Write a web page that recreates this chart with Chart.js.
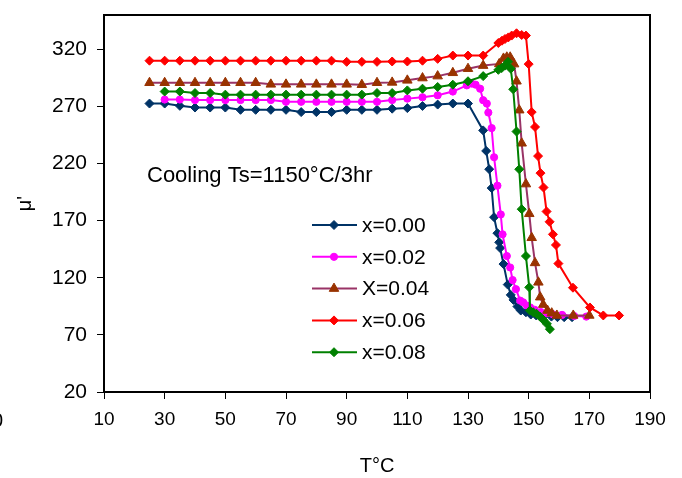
<!DOCTYPE html>
<html>
<head>
<meta charset="utf-8">
<script src="https://cdn.jsdelivr.net/npm/chart.js@4/dist/chart.umd.min.js"></script>
<style>
  html, body { margin: 0; padding: 0; background: #fff; }
  #wrap { width: 682px; height: 478px; }
</style>
</head>
<body>
<div id="wrap"><canvas id="c" width="682" height="478"></canvas></div>
<script>
// ---- Data ----
const seriesLabels = ["x=0.00", "x=0.02", "X=0.04", "x=0.06", "x=0.08"];

const t00 = [25,30,35,40,45,50,55,60,65,70,75,80,85,90,95,100,105,110,115,120,125,130,135,136,137,137.8,138.6,139.7,140.3,140.6,141.7,143.1,144.1,145,146.3,147.4,149.1,150.7,152.5,155,157.5,159.5,161.7,164.3];
const mu00 = [272.5,272.5,270.5,269,269,269,267,267,267,267,265,265,265,267,267,267,268,268.5,270.4,271.6,272.5,272.5,249,231,215,198.5,173,159,151,146,132,114,105,100.6,94.8,91.3,89.8,87.8,87,86.5,86,85.5,85.5,85.5];

const t02 = [30,35,40,45,50,55,60,65,70,75,80,85,90,95,100,105,110,115,120,125,129.6,131.2,132.5,134,135,136.2,136.7,137.8,138.6,139.7,140.8,141.4,142.8,143.9,144.7,145.8,147.2,148.2,149.4,150.5,152,154,156,158,161,165,169];
const mu02 = [276,276,275.5,275.5,275.5,275.5,275.5,275.5,274,274,274,274,274,274,274,275.5,276.8,278,279.7,283,288.4,290,289,285.5,275.4,272.5,264.6,251,225.5,200.6,175.4,158,139,129,118,110,100,98.5,95.7,94,92,90,89,88,87.5,86.5,86];

const t04 = [25,30,35,40,45,50,55,60,65,70,75,80,85,90,95,100,105,110,115,120,125,130,135,140.3,141.7,142.8,143.9,145.2,146,146.9,147.7,149.1,150.2,151,152.1,153.2,153.8,154.8,156.2,157.6,159.3,164.7,170];
const mu04 = [290.7,290.7,290.7,290.7,290.7,290.7,290.7,290.7,289.3,289.3,289.3,289.3,289.3,289.3,289,290.7,291,292.8,294.8,296.5,299.4,303,305.7,307.2,312,313,313,307,292,266.7,237.7,202,176,155,133,116,103,96.5,91.3,89,87,87,87];

const t06 = [25,30,35,40,45,50,55,60,65,70,75,80,85,90,95,100,105,110,115,120,125,130,135,140,141.2,142.2,143.3,144.4,146,147.7,149.1,150,151,152.1,153.1,153.9,154.9,155.9,156.9,158,159,159.8,164.6,170.2,174.6,179.8];
const mu06 = [310,310,310,310,310,310,310,310,310,310,310,310,310,309,309,309,309.3,309.3,310,311.6,314.5,314.5,314.5,325.5,327.5,329,330.4,332,334,332.5,332,307,265,252,226.5,211.6,199,178,169,158,148.7,132.4,111.3,94,87,87];

const t08 = [30,35,40,45,50,55,60,65,70,75,80,85,90,95,100,105,110,115,120,125,130,135,140,141.1,142.2,143.2,144.1,144.9,146,146.9,147.7,149.1,150.2,150.4,151.5,152.6,153.7,154.8,156,157];
const mu08 = [283,283,281.7,281.7,280.3,280.3,280.3,280.3,280.3,280.3,280.3,280.3,280.3,280.3,281.7,281.7,284,285.5,287,289,292,296.5,302,303.5,305.7,309,303,285,248,215,180,139,111.6,91.3,89.8,88.4,86,83.2,79.7,75];

const xTicks = [10,30,50,70,90,110,130,150,170,190];
const yTicks = [20,70,120,170,220,270,320];
const annotationText = "Cooling Ts=1150°C/3hr";
const xTitle = "T°C";
const yTitle = "μ'";

// ---- Styles ----
const FONT = "'Liberation Sans', Arial, Helvetica, sans-serif";
const styles = [
  { line: "#003366", fill: "#003366", style: "rectRot", r: 4.5 },
  { line: "#FF00FF", fill: "#FF00FF", style: "circle", r: 3.6 },
  { line: "#993366", fill: "#993300", style: "triangle", r: 5.5 },
  { line: "#FF0000", fill: "#FF0000", style: "rectRot", r: 4.5 },
  { line: "#008000", fill: "#008000", style: "rectRot", r: 4.5 }
];

const allT = [t00, t02, t04, t06, t08];
const allMu = [mu00, mu02, mu04, mu06, mu08];

const datasets = allT.map((ts, i) => ({
  label: seriesLabels[i],
  data: ts.map((t, k) => ({ x: t, y: allMu[i][k] })),
  showLine: true,
  borderColor: styles[i].line,
  backgroundColor: styles[i].fill,
  pointBackgroundColor: styles[i].fill,
  pointBorderColor: styles[i].fill,
  pointStyle: styles[i].style,
  pointRadius: styles[i].r,
  pointBorderWidth: 1,
  borderWidth: 2,
  tension: 0,
  order: 4 - i
}));

function drawMarker(ctx, style, x, y, r, color) {
  ctx.save();
  ctx.fillStyle = color;
  ctx.strokeStyle = color;
  ctx.lineWidth = 1;
  ctx.beginPath();
  if (style === "circle") {
    ctx.arc(x, y, r, 0, Math.PI * 2);
  } else if (style === "triangle") {
    ctx.moveTo(x, y - r);
    ctx.lineTo(x + r * 0.866, y + r * 0.5);
    ctx.lineTo(x - r * 0.866, y + r * 0.5);
  } else {
    ctx.moveTo(x, y - r);
    ctx.lineTo(x + r, y);
    ctx.lineTo(x, y + r);
    ctx.lineTo(x - r, y);
  }
  ctx.closePath();
  ctx.fill();
  ctx.stroke();
  ctx.restore();
}

const decorPlugin = {
  id: "decor",
  afterDraw(chart) {
    const ctx = chart.ctx;
    const a = chart.chartArea;
    ctx.save();
    // frame
    ctx.strokeStyle = "#000";
    ctx.lineWidth = 2;
    ctx.strokeRect(a.left, a.top, a.right - a.left, a.bottom - a.top);
    // annotation
    ctx.fillStyle = "#000";
    ctx.font = "22px " + FONT;
    ctx.textBaseline = "middle";
    ctx.textAlign = "left";
    ctx.fillText(annotationText, 147, 176);
    // legend
    const x0 = 312, x1 = 357, xm = 334, xt = 362;
    chart.data.datasets.forEach((ds, i) => {
      const y = 225 + i * 31.8;
      ctx.strokeStyle = ds.borderColor;
      ctx.lineWidth = 2;
      ctx.beginPath();
      ctx.moveTo(x0, y);
      ctx.lineTo(x1, y);
      ctx.stroke();
      drawMarker(ctx, ds.pointStyle, xm, y, ds.pointRadius, ds.pointBackgroundColor);
      ctx.fillStyle = "#000";
      ctx.font = "21px " + FONT;
      ctx.textBaseline = "middle";
      ctx.fillText(ds.label, xt, y + 1);
    });
    // stray clipped character at the left edge of the original image
    ctx.font = "20px " + FONT;
    ctx.textAlign = "left";
    ctx.fillText("0", -8, 421);
    ctx.restore();
  }
};

new Chart(document.getElementById("c"), {
  type: "scatter",
  data: { datasets },
  options: {
    responsive: false,
    animation: false,
    layout: { padding: { top: 15, right: 32, left: 0, bottom: 0 } },
    plugins: { legend: { display: false }, tooltip: { enabled: false } },
    scales: {
      x: {
        type: "linear",
        min: 10, max: 190,
        afterBuildTicks: (s) => { s.ticks = xTicks.map(v => ({ value: v })); },
        afterFit: (s) => { s.height = 86; s.paddingLeft = 0; s.paddingRight = 0; s.paddingTop = 0; s.paddingBottom = 0; },
        ticks: { color: "#000", font: { family: FONT, size: 19 }, padding: 9, maxRotation: 0, autoSkip: false },
        grid: { display: true, drawOnChartArea: false, drawTicks: true, tickLength: 7, color: "#000", lineWidth: 1 },
        border: { display: false },
        title: { display: true, text: xTitle, color: "#000", font: { family: FONT, size: 20 }, padding: { top: 0, bottom: 0 } }
      },
      y: {
        type: "linear",
        min: 20, max: 350,
        afterBuildTicks: (s) => { s.ticks = yTicks.map(v => ({ value: v })); },
        afterFit: (s) => { s.width = 104; s.paddingTop = 0; s.paddingBottom = 0; s.paddingLeft = 0; s.paddingRight = 0; },
        ticks: { color: "#000", font: { family: FONT, size: 21 }, padding: 10, autoSkip: false },
        grid: { display: true, drawOnChartArea: false, drawTicks: true, tickLength: 7, color: "#000", lineWidth: 1 },
        border: { display: false },
        title: { display: true, text: yTitle, color: "#000", font: { family: FONT, size: 20 }, padding: { top: 13, bottom: 0 } }
      }
    }
  },
  plugins: [decorPlugin]
});
</script>
</body>
</html>
